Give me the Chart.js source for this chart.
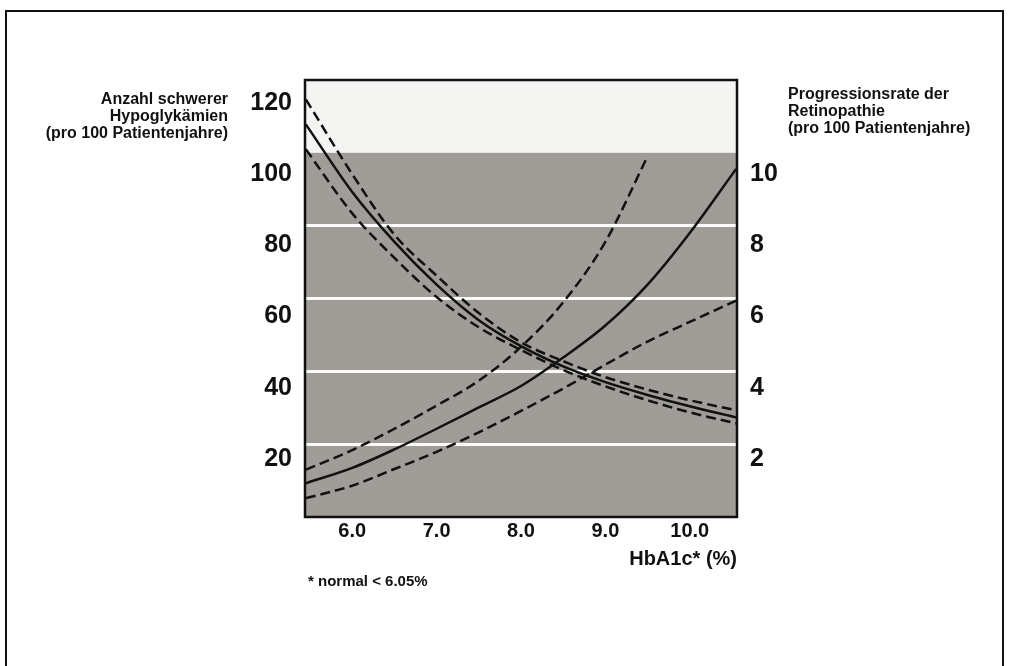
<!DOCTYPE html>
<html>
<head>
<meta charset="utf-8">
<script src="https://cdn.jsdelivr.net/npm/chart.js@4"></script>
<style>
  html, body { margin: 0; padding: 0; background: #ffffff; }
  #wrap { position: relative; width: 1009px; height: 666px; }
  canvas { display: block; }
</style>
</head>
<body>
<div id="wrap"><canvas id="c" width="1009" height="666"></canvas></div>
<script>
// ---- data ----
const hba1c      = [5.45, 6.0, 6.5, 7.0, 7.5, 8.0, 8.5, 9.0, 9.5, 10.0, 10.55];
// severe hypoglycaemia per 100 patient-years (left axis)
const hypoMid    = [114, 95, 81, 69, 59, 51.7, 46, 41.6, 38, 34.8, 31.7];
const hypoHigh   = [121, 100, 83, 71.5, 61, 52.8, 47.5, 43, 39.5, 36.5, 33.7];
const hypoLow    = [107, 89, 76.5, 65.5, 57, 50.6, 45, 40.4, 36.5, 33.1, 30.0];
// retinopathy progression per 100 patient-years (right axis)
const retMid     = [1.32, 1.75, 2.27, 2.85, 3.45, 4.05, 4.85, 5.75, 6.9, 8.35, 10.15];
const retHigh    = [1.70, 2.25, 2.85, 3.5, 4.2, 5.15, 6.4, 8.1, 10.5, null, null];
const retLow     = [0.9, 1.25, 1.72, 2.2, 2.75, 3.35, 3.98, 4.65, 5.3, 5.85, 6.45];

const xTicks     = [6, 7, 8, 9, 10];
const leftTicks  = [20, 40, 60, 80, 100, 120];
const rightTicks = [2, 4, 6, 8, 10];

const leftTitle  = ['Anzahl schwerer', 'Hypoglykämien', '(pro 100 Patientenjahre)'];
const rightTitle = ['Progressionsrate der', 'Retinopathie', '(pro 100 Patientenjahre)'];
const xTitle     = 'HbA1c* (%)';
const footnote   = '* normal < 6.05%';

// ---- chart ----
const FONT = "'Liberation Sans', Arial, sans-serif";
const pts = (ys) => hba1c.map((x, i) => ({ x: x, y: ys[i] }));

function line(ys, axis, dashed, width) {
  return {
    data: pts(ys),
    yAxisID: axis,
    borderColor: '#111111',
    borderWidth: width,
    borderDash: dashed ? [10, 5] : [],
    pointRadius: 0,
    fill: false,
    cubicInterpolationMode: 'monotone',
    spanGaps: false
  };
}

const bgPlugin = {
  id: 'bg',
  beforeDraw(chart) {
    const { ctx, chartArea: a } = chart;
    const g = chart.scales.yg;
    ctx.save();
    // page frame
    ctx.strokeStyle = '#111';
    ctx.lineWidth = 2;
    ctx.strokeRect(6, 11, 997, 700);
    // plot background: light top band, grey body
    ctx.fillStyle = '#f4f4f2';
    ctx.fillRect(a.left, a.top, a.right - a.left, a.bottom - a.top);
    const yTop = g.getPixelForValue(5);
    ctx.fillStyle = '#a09c97';
    ctx.fillRect(a.left, yTop, a.right - a.left, a.bottom - yTop);
    ctx.restore();
  },
  afterDatasetsDraw(chart) {
    const { ctx, chartArea: a } = chart;
    ctx.save();
    ctx.strokeStyle = '#111';
    ctx.lineWidth = 2.5;
    ctx.strokeRect(a.left, a.top, a.right - a.left, a.bottom - a.top);
    ctx.restore();
  },
  afterDraw(chart) {
    const { ctx, chartArea: a } = chart;
    ctx.save();
    ctx.fillStyle = '#111';
    ctx.font = 'bold 16px ' + FONT;
    ctx.textBaseline = 'middle';
    ctx.textAlign = 'right';
    leftTitle.forEach((t, i) => ctx.fillText(t, a.left - 77, a.top + 20 + i * 17));
    ctx.textAlign = 'left';
    rightTitle.forEach((t, i) => ctx.fillText(t, a.right + 51, a.top + 15 + i * 17));
    ctx.font = 'bold 15px ' + FONT;
    ctx.fillText(footnote, a.left + 3, a.bottom + 65);
    ctx.restore();
  }
};

const tickFont = { family: FONT, size: 25, weight: 'bold' };

new Chart(document.getElementById('c'), {
  type: 'line',
  data: {
    datasets: [
      line(hypoHigh, 'y', true, 2.5),
      line(hypoMid, 'y', false, 2.5),
      line(hypoLow, 'y', true, 2.5),
      line(retHigh, 'y2', true, 2.5),
      line(retMid, 'y2', false, 2.5),
      line(retLow, 'y2', true, 2.5)
    ]
  },
  plugins: [bgPlugin],
  options: {
    responsive: false,
    animation: false,
    devicePixelRatio: 1,
    layout: { padding: { left: 0, top: 80, right: 0, bottom: 0 } },
    plugins: { legend: { display: false }, tooltip: { enabled: false } },
    scales: {
      x: {
        type: 'linear',
        position: 'bottom',
        min: 5.44,
        max: 10.56,
        afterBuildTicks: (s) => { s.ticks = xTicks.map(v => ({ value: v })); },
        afterFit: (s) => { s.height = 149; },
        grid: { display: false, drawTicks: false },
        border: { display: false },
        ticks: {
          padding: 2,
          color: '#111',
          font: { family: FONT, size: 20, weight: 'bold' },
          callback: (v) => Number(v).toFixed(1)
        },
        title: {
          display: true,
          text: xTitle,
          align: 'end',
          color: '#111',
          font: { family: FONT, size: 20, weight: 'bold' },
          padding: { top: 0, bottom: 95 }
        }
      },
      y: {
        type: 'linear',
        position: 'left',
        min: 3.71,
        max: 126.46,
        afterBuildTicks: (s) => { s.ticks = leftTicks.map(v => ({ value: v })); },
        afterFit: (s) => { s.width = 305; },
        grid: { display: false, drawTicks: false },
        border: { display: false },
        ticks: { padding: 13, color: '#111', font: tickFont }
      },
      y2: {
        type: 'linear',
        position: 'right',
        min: 0.371,
        max: 12.646,
        afterBuildTicks: (s) => { s.ticks = rightTicks.map(v => ({ value: v })); },
        afterFit: (s) => { s.width = 272; },
        grid: { display: false, drawTicks: false },
        border: { display: false },
        ticks: { padding: 13, color: '#111', font: tickFont }
      },
      yg: {
        type: 'linear',
        position: 'left',
        min: 0,
        max: 6,
        afterFit: (s) => { s.width = 0; },
        ticks: { display: false, stepSize: 1 },
        border: { display: false },
        grid: {
          drawTicks: false,
          lineWidth: 3,
          color: (c) => (c.tick && c.tick.value >= 1 && c.tick.value <= 4) ? '#fbfbfb' : 'rgba(0,0,0,0)'
        }
      }
    }
  }
});
</script>
</body>
</html>
